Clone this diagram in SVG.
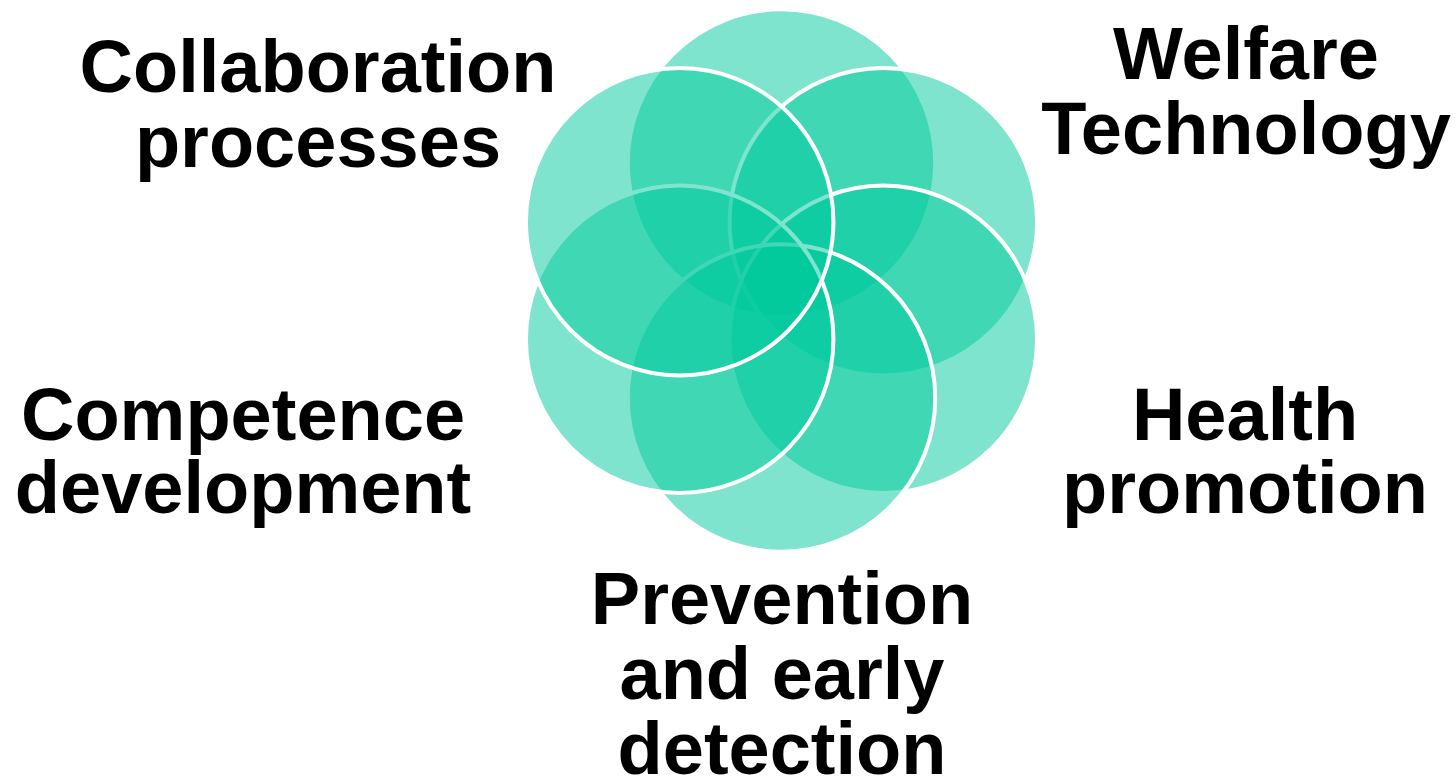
<svg xmlns="http://www.w3.org/2000/svg" width="1455" height="783" viewBox="0 0 1455 783">
<style>
.c{fill:#00C99B;fill-opacity:0.5;stroke:#FFFFFF;stroke-width:4}
.t{font-family:"Liberation Sans",Arial,sans-serif;font-weight:bold;font-size:74px;fill:#000000;text-anchor:middle}
</style>
<rect width="1455" height="783" fill="#FFFFFF"/>
<g id="circles">
<circle id="c-top" class="c" cx="781.5" cy="163" r="153.75"/>
<circle id="c-upper-right" class="c" cx="883.3" cy="221.75" r="153.75"/>
<circle id="c-lower-right" class="c" cx="883.3" cy="339.25" r="153.75"/>
<circle id="c-bottom" class="c" cx="781.5" cy="398" r="153.75"/>
<circle id="c-lower-left" class="c" cx="679.7" cy="339.25" r="153.75"/>
<circle id="c-upper-left" class="c" cx="679.7" cy="221.75" r="153.75"/>
</g>
<g id="label-collaboration"><text class="t" x="318" y="92">Collaboration</text><text class="t" x="318" y="167">processes</text></g>
<g id="label-welfare"><text class="t" x="1246" y="79">Welfare</text><text class="t" x="1246" y="154">Technology</text></g>
<g id="label-health"><text class="t" x="1245" y="440">Health</text><text class="t" x="1245" y="513">promotion</text></g>
<g id="label-competence"><text class="t" x="243" y="440">Competence</text><text class="t" x="243" y="513">development</text></g>
<g id="label-prevention"><text class="t" x="782" y="624">Prevention</text><text class="t" x="782" y="699">and early</text><text class="t" x="782" y="774">detection</text></g>
</svg>
